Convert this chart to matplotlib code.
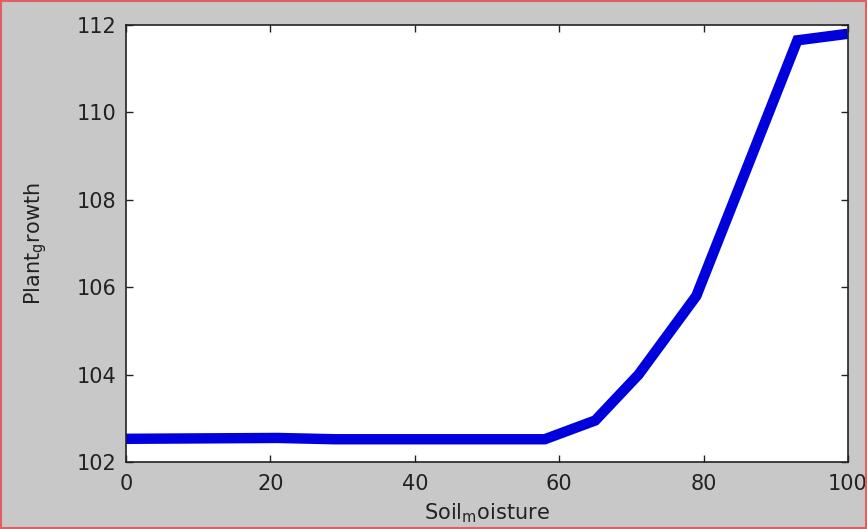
import matplotlib.pyplot as plt
from matplotlib.patches import Rectangle

plt.rcParams['font.family'] = ['DejaVu Sans']
plt.rcParams['mathtext.default'] = 'regular'

# soil moisture vs plant growth response
soil_moisture = [0, 21, 29, 58, 65, 71, 79, 93, 100]
plant_growth = [102.53, 102.55, 102.52, 102.52, 102.95, 104.0, 105.8, 111.65, 111.8]

fig = plt.figure(figsize=(8.67, 5.29), dpi=100, facecolor='#c8c8c8')
ax = fig.add_axes([0.1453, 0.1267, 0.8327, 0.826])

ax.plot(soil_moisture, plant_growth, color='#0000dd', linewidth=7.5,
        solid_joinstyle='miter', solid_capstyle='butt')

ax.set_xlim(0, 100)
ax.set_ylim(102, 112)
ax.set_xticks([0, 20, 40, 60, 80, 100])
ax.set_yticks([102, 104, 106, 108, 110, 112])
ax.tick_params(direction='in', top=True, right=True, length=5, width=1,
               labelsize=15, colors='#222222')
ax.tick_params(axis='x', pad=9)
ax.tick_params(axis='y', pad=7)
for s in ax.spines.values():
    s.set_linewidth(1.2)
    s.set_color('#222222')

ax.set_xlabel('Soil$_{m}$oisture', fontsize=15, labelpad=5, color='#222222')
ax.set_ylabel('Plant$_{g}$rowth', fontsize=15, labelpad=20, color='#222222')

# thin red window frame
fig.patches.append(Rectangle((0.0006, 0.001), 0.9988, 0.998, transform=fig.transFigure,
                             fill=False, edgecolor='#e06060', linewidth=1.5))

fig.savefig('out.png', dpi=100, facecolor=fig.get_facecolor())
